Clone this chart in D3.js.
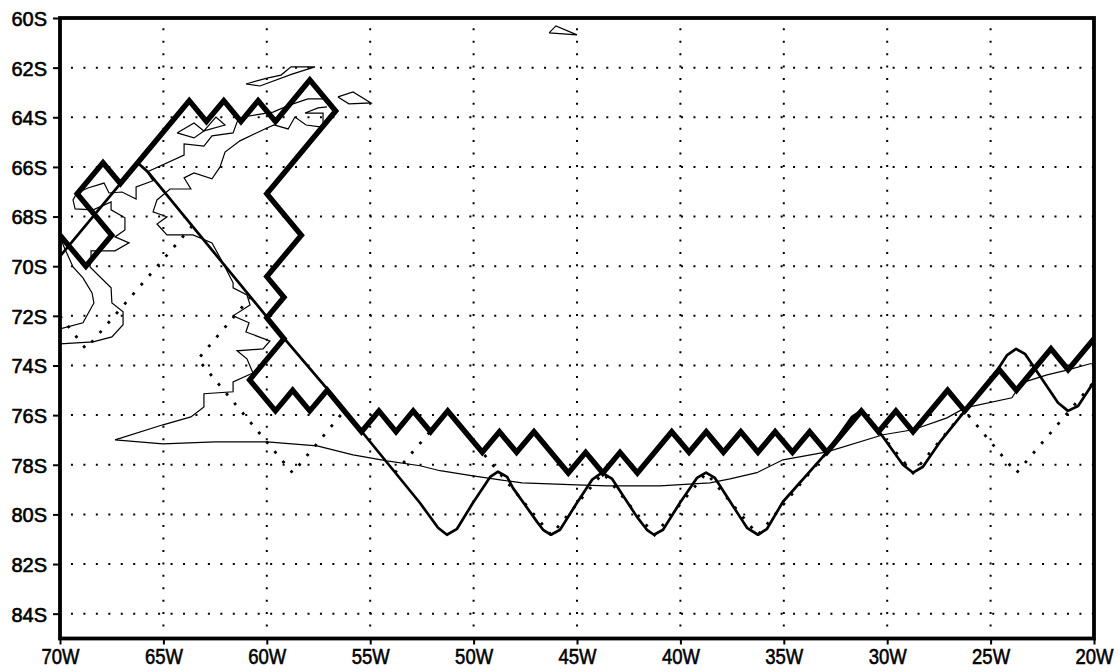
<!DOCTYPE html>
<html>
<head>
<meta charset="utf-8">
<script src="https://cdn.jsdelivr.net/npm/d3@7"></script>
<style>
  html, body { margin: 0; padding: 0; background: #fff; }
  svg { display: block; }
  text { font-family: "Liberation Sans", Arial, sans-serif; }
</style>
</head>
<body>
<div id="chart"></div>
<script>
var lonTicks = [-70, -65, -60, -55, -50, -45, -40, -35, -30, -25, -20]
var latTicks = [60, 62, 64, 66, 68, 70, 72, 74, 76, 78, 80, 82, 84]

// heavy contour, [lon, lat south]
var thickLine = [[-70,68.75],[-68.75,70],[-67.5,68.75],[-69.17,67.08],[-67.92,65.83],[-67.08,66.67],
  [-63.75,63.33],[-62.92,64.17],[-62.08,63.33],[-61.25,64.17],[-60.42,63.33],[-59.58,64.17],[-57.92,62.5],
  [-56.67,63.75],[-60,67.08],[-58.33,68.75],[-60,70.42],[-59.17,71.25],[-60,72.08],[-59.17,72.92],
  [-60.83,74.58],[-59.58,75.83],[-58.75,75],[-57.92,75.83],[-57.08,75],[-55.42,76.67],[-54.58,75.83],
  [-53.75,76.67],[-52.92,75.83],[-52.08,76.67],[-51.25,75.83],[-49.58,77.5],[-48.75,76.67],[-47.92,77.5],
  [-47.08,76.67],[-45.42,78.33],[-44.58,77.5],[-43.75,78.33],[-42.92,77.5],[-42.08,78.33],[-40.42,76.67],
  [-39.58,77.5],[-38.75,76.67],[-37.92,77.5],[-37.08,76.67],[-36.25,77.5],[-35.42,76.67],[-34.58,77.5],
  [-33.75,76.67],[-32.92,77.5],[-31.25,75.83],[-30.42,76.67],[-29.58,75.83],[-28.75,76.67],[-27.08,75],
  [-26.25,75.83],[-24.58,74.17],[-23.75,75],[-22.08,73.33],[-21.25,74.17],[-20,72.92]]

// medium solid contour
var mediumLine = [[-70,69.6],[-67.08,66.67],[-66.25,65.83],[-65.75,66.2],[-60,72.04],[-59.17,72.9],[-57.08,74.94],
  [-55.4,76.67],[-52.6,79.53],[-51.72,80.54],[-51.29,80.82],[-50.8,80.58],[-50.03,79.53],[-49.2,78.49],
  [-48.82,78.28],[-48.38,78.49],[-48.1,78.93],[-46.93,80.3],[-46.64,80.62],[-46.26,80.82],[-45.82,80.62],
  [-45,79.53],[-44.27,78.6],[-43.79,78.32],[-43.3,78.57],[-42.1,80.1],[-41.62,80.62],[-41.28,80.82],
  [-40.84,80.62],[-40.02,79.53],[-39.2,78.53],[-38.76,78.32],[-38.33,78.53],[-37.12,80.1],[-36.78,80.54],
  [-36.25,80.82],[-35.81,80.58],[-35.04,79.49],[-32.9,77.48],[-31.7,76.07],[-31.27,75.83],[-30.4,76.67],
  [-30.2,76.88],[-29.24,78],[-28.75,78.32],[-28.27,78.08],[-27.45,77.08],[-26.24,75.83],[-24.64,74.14],
  [-24.2,73.58],[-23.77,73.33],[-23.34,73.53],[-21.74,75.5],[-21.26,75.83],[-20.77,75.63],[-20,74.66]]

// dotted contour, three visible stretches
var dottedWest = [[-70,72],[-68.75,73.33],[-63.57,68.34]]
var dottedMiddle = [[-60.77,71.23],[-63.33,73.75],[-58.75,78.33],[-56.22,75.79]]
var dottedEast = [[-53.8,78.32],[-51.25,75.83],[-48.75,78.33],[-46.25,80.83],[-43.75,78.33],[-41.25,80.83],
  [-38.75,78.33],[-36.25,80.83],[-32.92,77.5],[-31.25,75.83],[-28.75,78.33],[-26.25,75.83],[-23.75,78.33],[-20,74.66]]

// coastlines
var coastWest = [[-70,73.13],[-68.4,73.05],[-67.49,72.85],[-66.95,72.36],[-66.95,71.84],[-67.49,71.48],[-67.53,70.87],
  [-68.55,70.03],[-68.5,69.63],[-68.5,69.38],[-67.34,69.38],[-66.66,69.06],[-67.34,68.82],[-66.86,68.54],[-66.86,68.05],
  [-67.53,67.73],[-67.53,67.41],[-68.07,67.61],[-68.4,67.73],[-69.27,67.69],[-69.37,67.33],[-69.18,67.05],[-68.65,66.85],
  [-67.87,66.65],[-67.63,67.05],[-67,67.01],[-66.32,67.29],[-66.32,66.81],[-65.5,66.56],[-65.79,66.2],[-64,65.52],
  [-64,65.07],[-63.04,65.16],[-62.65,64.75],[-61.63,64.63],[-61.44,64.19],[-61.15,63.99],[-59.7,63.79],[-58.88,63.5],
  [-58.01,63.26],[-57.28,63.26],[-56.8,63.5]]
var coastEast = [[-57.09,63.58],[-57.52,63.62],[-58.15,63.83],[-57.28,63.83],[-57.28,64.31],[-57.43,64.39],[-58.1,64.31],
  [-58.64,63.99],[-58.97,64.47],[-59.65,64.31],[-59.99,64.43],[-61.3,64.95],[-62.02,65.4],[-62.26,66],[-62.65,66.48],
  [-63.52,66.24],[-64,66.44],[-63.67,66.89],[-64.68,66.89],[-65.31,67.33],[-65.5,67.81],[-64.83,68.01],[-65.31,68.3],
  [-64.83,68.74],[-63.57,68.74],[-62.65,69.06],[-62.12,69.87],[-61.63,70.67],[-61.63,70.87],[-60.96,71.16],[-60.81,71.56],
  [-61.63,72],[-60.86,72.28],[-61.01,72.65],[-59.85,73.01],[-60.18,73.33],[-61.44,73.41],[-60.96,73.73],[-60.67,74.3],
  [-61.63,74.66],[-61.63,75.06],[-63.04,75.14],[-63.04,75.67],[-63.67,76.07],[-65.02,76.39],[-67.34,77],[-65.02,77.16],
  [-62.5,77.08],[-59.99,77.08],[-57.57,77.24],[-55.83,77.6],[-54.19,77.84],[-52.59,78.04],[-51.62,78.24],[-50.03,78.45],
  [-48.72,78.61],[-47.66,78.73],[-45,78.81],[-43.55,78.85],[-40.99,78.85],[-38.57,78.73],[-37.6,78.57],[-36.3,78.32],
  [-35.04,77.8],[-32.91,77.48],[-30.2,76.79],[-28.75,76.59],[-27.11,76.11],[-26.24,75.71],[-23.97,75.3],[-23.72,74.98],
  [-23.34,74.66],[-22.27,74.38],[-21.26,74.18],[-20.19,73.93],[-20,73.93]]
var coastInner = [[-70,68.74],[-69.85,69.14],[-69.37,70.03],[-68.89,70.47],[-68.45,71.08],[-68.36,71.48],[-68.89,72.28],[-70,72.53]]

// islands, closed outlines
var islandA = [[-64.34,64.63],[-63.52,64.23],[-63.04,64.55],[-63.52,64.83],[-64.34,64.63]]
var islandB = [[-63.04,64.55],[-62.46,63.99],[-62.02,64.31],[-63.04,64.55]]
var islandC = [[-61.01,62.66],[-59.99,62.42],[-59.31,62.3],[-58.83,61.97],[-57.67,61.97],[-58.78,62.26],[-60.33,62.74],[-61.01,62.66]]
var islandD = [[-56.56,63.18],[-55.83,62.98],[-54.96,63.42],[-56.03,63.46],[-56.56,63.18]]
var islandE = [[-46.35,60.6],[-46.02,60.32],[-45,60.68],[-46.35,60.6]]

var w = 1120, h = 672
var left = 60, right = 1094, top_ = 18, bottom = 638.5

var x = d3.scaleLinear().domain([-70, -20]).range([left, right])
var y = d3.scaleLinear().domain([60, 85]).range([top_, bottom])

var svg = d3.select("#chart").append("svg").attr("width", w).attr("height", h)

svg.append("clipPath").attr("id", "plot")
  .append("rect").attr("x", left).attr("y", top_).attr("width", right - left).attr("height", bottom - top_)

// grid
var grid = svg.append("g")
  .attr("stroke", "#000").attr("stroke-width", 2).attr("fill", "none")
grid.selectAll(".h").data(latTicks.slice(1)).enter().append("line")
  .attr("x1", left).attr("x2", right)
  .attr("y1", function(d) { return y(d) }).attr("y2", function(d) { return y(d) })
  .attr("stroke-dasharray", "2 10.45").attr("stroke-dashoffset", 1.5)
grid.selectAll(".v").data(lonTicks.slice(1, -1)).enter().append("line")
  .attr("y1", top_).attr("y2", bottom)
  .attr("x1", function(d) { return x(d) }).attr("x2", function(d) { return x(d) })
  .attr("stroke-dasharray", "2 10.42").attr("stroke-dashoffset", 2.1)

var line = d3.line().x(function(d) { return x(d[0]) }).y(function(d) { return y(d[1]) })
var marks = svg.append("g").attr("clip-path", "url(#plot)").attr("fill", "none").attr("stroke", "#000")

// thin coast first, contours on top
;[coastWest, coastEast, coastInner, islandA, islandB, islandC, islandD, islandE].forEach(function(c) {
  marks.append("path").attr("d", line(c)).attr("stroke-width", 1.2).attr("stroke-linejoin", "miter")
})
;[dottedWest, dottedMiddle, dottedEast].forEach(function(c) {
  marks.append("path").attr("d", line(c)).attr("stroke-width", 2.8).attr("stroke-dasharray", "2.8 9.8")
})
marks.append("path").attr("d", line(mediumLine)).attr("stroke-width", 2.7).attr("stroke-linejoin", "round")
marks.append("path").attr("d", line(thickLine)).attr("stroke-width", 5.4).attr("stroke-linejoin", "miter")

// axes
var yAxis = d3.axisLeft(y).tickValues(latTicks).tickSize(7).tickPadding(6)
  .tickFormat(function(d) { return d + "S" })
var xAxis = d3.axisBottom(x).tickValues(lonTicks).tickSize(6).tickPadding(4)
  .tickFormat(function(d) { return Math.abs(d) + "W" })

var gy = svg.append("g").attr("transform", "translate(" + left + ",0)").call(yAxis)
var gx = svg.append("g").attr("transform", "translate(0," + bottom + ")").call(xAxis)
gy.select(".domain").remove()
gx.select(".domain").remove()
svg.selectAll(".tick line").attr("stroke", "#000").attr("stroke-width", 2)
svg.selectAll(".tick text").attr("fill", "#000").attr("stroke", "#000").attr("stroke-width", 0.6)
gy.selectAll(".tick text").attr("font-size", 20).attr("dy", "0.37em")
gx.selectAll(".tick text").attr("font-size", 22).attr("textLength", 38).attr("lengthAdjust", "spacingAndGlyphs")

svg.append("rect").attr("x", left).attr("y", top_).attr("width", right - left).attr("height", bottom - top_)
  .attr("fill", "none").attr("stroke", "#000").attr("stroke-width", 3.8)
</script>
</body>
</html>
